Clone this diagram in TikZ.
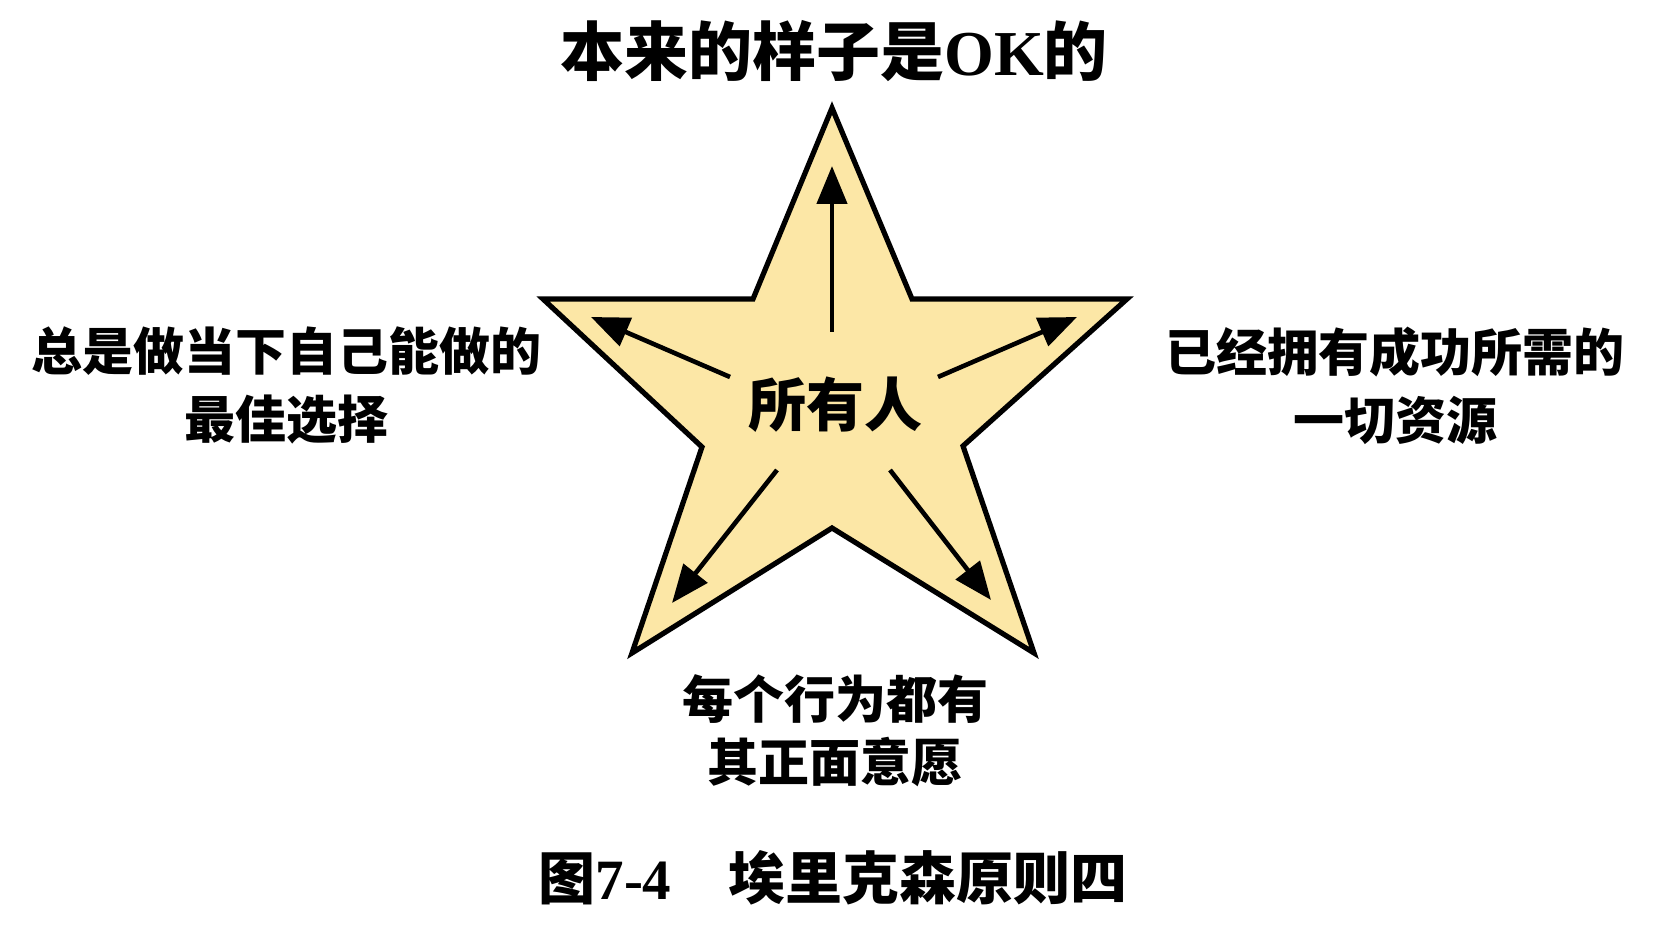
\documentclass[tikz,border=0pt]{standalone}
\usepackage{fontspec}
\setmainfont{Liberation Serif}
\newfontfamily\cjk{Noto Sans CJK SC}
\usetikzlibrary{arrows.meta}
\definecolor{starfill}{RGB}{252,231,166}
\tikzset{
  starshape/.style={draw=black, line width=2.6pt, fill=starfill, line join=miter},
  ray/.style={line width=2.3pt, -{Triangle[length=19pt,width=15pt]}},
  titletext/.style={inner sep=0pt, font=\fontsize{32pt}{36pt}\selectfont\bfseries},
  labeltext/.style={inner sep=0pt, align=center, font=\cjk\bfseries\fontsize{25.5pt}{34pt}\selectfont},
  centertext/.style={inner sep=0pt, font=\cjk\bfseries\fontsize{29pt}{32pt}\selectfont},
  captiontext/.style={inner sep=0pt, font=\fontsize{28.5pt}{32pt}\selectfont\bfseries}
}
\begin{document}
\begin{tikzpicture}[x={(0.5pt,0pt)}, y={(0pt,-0.5pt)}]
\useasboundingbox[fill=white] (0,0) rectangle (1665,945);
% star points
\coordinate (T) at (832,108);
\coordinate (ITR) at (912,299);
\coordinate (R) at (1127,299);
\coordinate (IR) at (963,446);
\coordinate (BR) at (1034,653);
\coordinate (IB) at (832,528);
\coordinate (BL) at (632,653);
\coordinate (IL) at (702,447);
\coordinate (ITL) at (753,299);
\coordinate (L) at (543,299);
\draw[starshape] (T) -- (ITR) -- (R) -- (IR) -- (BR) -- (IB) -- (BL) -- (IL) -- (L) -- (ITL) -- cycle;
% arrows
\coordinate (upS) at (832,332);  \coordinate (upE) at (832,166);
\coordinate (lS) at (730,377);   \coordinate (lE) at (591,317);
\coordinate (rS) at (938,377);   \coordinate (rE) at (1077,317);
\coordinate (blS) at (777,470);  \coordinate (blE) at (672,603);
\coordinate (brS) at (890,470);  \coordinate (brE) at (991,600);
\draw[ray] (upS) -- (upE);
\draw[ray] (lS) -- (lE);
\draw[ray] (rS) -- (rE);
\draw[ray] (blS) -- (blE);
\draw[ray] (brS) -- (brE);
% texts
\node[titletext] (title) at (834,51) {{\cjk 本来的样子是}OK{\cjk 的}};
\node[centertext] (center) at (835,405) {所有人};
\node[labeltext] (left) at (287,385) {总是做当下自己能做的\\最佳选择};
\node[labeltext] (right) at (1395,386) {已经拥有成功所需的\\一切资源};
\node[labeltext, font=\cjk\bfseries\fontsize{25.5pt}{31.5pt}\selectfont] (bottom) at (835,731) {每个行为都有\\其正面意愿};
\node[captiontext] (caption) at (833,878) {{\cjk 图}7-4\hspace{1em}{\cjk 埃里克森原则四}};
\end{tikzpicture}
\end{document}
